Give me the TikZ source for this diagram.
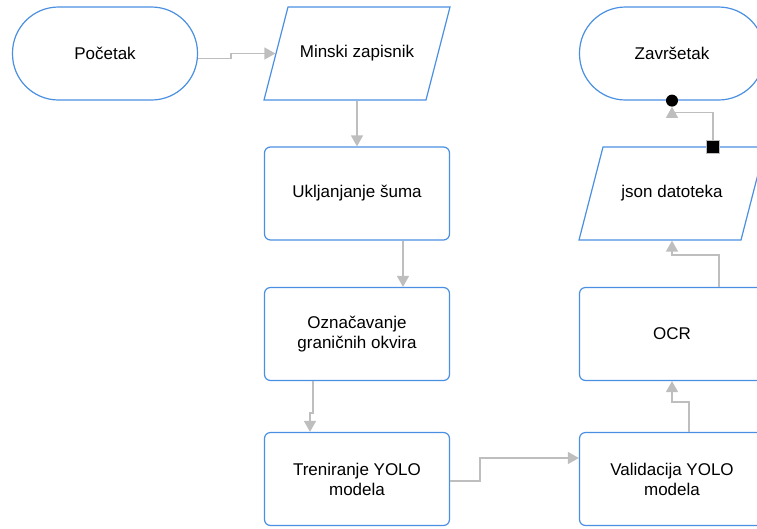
\documentclass[tikz,border=0pt]{standalone}
\usepackage{fontspec}
\setmainfont{Liberation Sans}
\usetikzlibrary{arrows.meta, positioning, calc}
\definecolor{flowblue}{RGB}{74,144,226}
\definecolor{flowgrey}{RGB}{190,190,190}
\tikzset{
  base/.style={draw=flowblue, fill=white, line width=1.2pt, align=center,
    minimum width=185pt, minimum height=93pt, inner sep=0pt,
    font=\fontsize{17}{20}\selectfont},
  term/.style={base, rectangle, rounded corners=46pt},
  proc/.style={base, rectangle, rounded corners=6pt},
  io/.style={base, draw=none, fill=none, minimum width=162pt},
  ioline/.style={draw=flowblue, fill=white, line width=1.2pt},
  flow/.style={draw=flowgrey, line width=1.3pt, -{Triangle[length=11pt,width=12pt]}},
  sqdot/.style={fill=black, draw=flowgrey, line width=0.6pt, minimum size=13pt, inner sep=0pt},
  rdot/.style={circle, fill=black, minimum size=12pt, inner sep=0pt}
}

\begin{document}
\begin{tikzpicture}[x=1pt, y=-1pt]
  \useasboundingbox (0,0) rectangle (757,528);

  % Parallelogram outlines (drawn under the text)
	\foreach \c in {(357,53.5), (672,193.5)}
	  \draw[ioline] \c ++(-93,46.5) -- ++(162,0) -- ++(24,-93) -- ++(-162,0) -- cycle;

  % Nodes
	\node[term] (start) at (105,53.5) {Početak};
	\node[io] (minski) at (357,53.5) {Minski zapisnik};
	\node[proc] (uklj) at (357,193.5) {Ukljanjanje šuma};
	\node[proc] (oznac) at (357,334) {Označavanje\\graničnih okvira};
	\node[proc] (tren) at (357,479) {Treniranje YOLO\\modela};
	\node[proc] (valid) at (672,479) {Validacija YOLO\\modela};
	\node[proc] (ocr) at (672,334) {OCR};
	\node[io] (json) at (672,193.5) {json datoteka};
	\node[term] (end) at (672,53.5) {Završetak};

  % Connectors
	\draw[flow] ($(start.east)+(0,5)$) -- ++(33,0) |- (minski.west);
	\draw[flow] (minski.south) -- (uklj.north);
	\draw[flow] ($(uklj.south)+(46,0)$) -- ($(oznac.north)+(46,0)$);
	\draw[flow] ($(oznac.south)+(-44,0)$) -- ++(0,32) -| ($(tren.north)+(-47,0)$);
	\draw[flow] ($(tren.east)+(0,2)$) -- ++(30,0) |- ($(valid.west)+(0,-21)$);
	\draw[flow] ($(valid.north)+(17,0)$) -- ++(0,-30) -| (ocr.south);
	\draw[flow] ($(ocr.north)+(47,0)$) -- ++(0,-32) -| (json.south);

  % json to end, with square and round ends
	\node[rdot] (edot) at (end.south) {};
	\coordinate (jfoot) at ($(json.north)+(41,0)$);
	\draw[flow] (jfoot) -- ++(0,-34) -| (edot.south);
	\node[sqdot] (jsq) at (jfoot) {};
\end{tikzpicture}
\end{document}
